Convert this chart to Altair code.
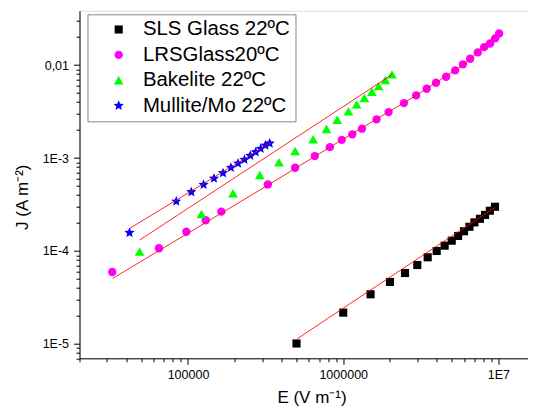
import altair as alt
import pandas as pd

# ---------------- data ----------------
series_names = ["SLS Glass 22ºC", "LRSGlass20ºC", "Bakelite 22ºC", "Mullite/Mo 22ºC"]
series_colors = ["#000000", "#FF00FF", "#00FF00", "#0000FF"]
STAR = ("M0,-1L0.265,-0.364L0.951,-0.309L0.428,0.139L0.588,0.809L0,0.45"
        "L-0.588,0.809L-0.428,0.139L-0.951,-0.309L-0.265,-0.364Z")
series_shapes = ["square", "circle", "triangle-up", STAR]
series_sizes = [66, 70, 95, 115]

sls_E = [5e5, 1e6, 1.5e6, 2e6, 2.5e6, 3e6, 3.5e6, 4e6, 4.5e6, 5e6, 5.5e6, 6e6,
         6.5e6, 7e6, 7.6e6, 8.2e6, 8.8e6, 9.5e6]
sls_J = [1.01e-5, 2.17e-5, 3.42e-5, 4.64e-5, 5.79e-5, 7.06e-5, 8.55e-5, 1.0e-4,
         1.14e-4, 1.29e-4, 1.45e-4, 1.63e-4, 1.82e-4, 2.03e-4, 2.22e-4, 2.44e-4,
         2.71e-4, 2.99e-4]

lrs_E = [3.25e4, 6.5e4, 9.75e4, 1.3e5, 1.64e5, 3.27e5, 4.9e5, 6.56e5, 8.2e5,
         9.78e5, 1.145e6, 1.32e6, 1.64e6, 1.96e6, 2.46e6, 2.95e6, 3.45e6, 3.96e6,
         4.6e6, 5.26e6, 5.9e6, 6.57e6, 7.36e6, 8.09e6, 8.84e6, 9.52e6, 1.01e7]
lrs_J = [5.94e-5, 1.07e-4, 1.61e-4, 2.14e-4, 2.65e-4, 5.2e-4, 7.87e-4, 1.05e-3,
         1.31e-3, 1.57e-3, 1.8e-3, 2.07e-3, 2.61e-3, 3.12e-3, 3.9e-3, 4.72e-3,
         5.56e-3, 6.45e-3, 7.49e-3, 8.77e-3, 0.0102, 0.0117, 0.0137, 0.0156,
         0.0171, 0.0194, 0.0219]

bak_E = [4.88e4, 1.22e5, 1.95e5, 2.9e5, 3.86e5, 4.9e5, 6.4e5, 7.8e5, 9.15e5,
         1.08e6, 1.22e6, 1.37e6, 1.53e6, 1.69e6, 1.87e6, 2.06e6]
bak_J = [9.84e-5, 2.5e-4, 4.17e-4, 6.56e-4, 8.99e-4, 1.19e-3, 1.59e-3, 2.05e-3,
         2.58e-3, 3.18e-3, 3.78e-3, 4.42e-3, 5.16e-3, 5.94e-3, 6.9e-3, 7.95e-3]

mul_E = [4.2e4, 8.4e4, 1.05e5, 1.26e5, 1.47e5, 1.68e5, 1.89e5, 2.1e5, 2.31e5,
         2.52e5, 2.73e5, 2.94e5, 3.15e5, 3.36e5]
mul_J = [1.57e-4, 3.42e-4, 4.31e-4, 5.17e-4, 6.04e-4, 6.9e-4, 7.87e-4, 8.77e-4,
         9.6e-4, 1.06e-3, 1.16e-3, 1.26e-3, 1.37e-3, 1.44e-3]

# fit curves (red), nodes
sls_fit_E = [5.07e5, 9.52e6]
sls_fit_J = [1.14e-5, 2.95e-4]
lrs_fit_E = [3.28e4, 3.27e5, 1e6, 3e6, 5.9e6, 1.01e7]
lrs_fit_J = [5.08e-5, 5.1e-4, 1.6e-3, 4.8e-3, 1.0e-2, 2.21e-2]
bak_fit_E = [4.88e4, 2.06e6]
bak_fit_J = [1.31e-4, 7.9e-3]
mul_fit_E = [4.21e4, 3.51e5]
mul_fit_J = [1.75e-4, 1.5e-3]

x_major = [1e5, 1e6, 1e7]
x_major_labels = ["100000", "1000000", "1E7"]
y_major = [1e-5, 1e-4, 1e-3, 1e-2]
y_major_labels = ["1E-5", "1E-4", "1E-3", "0,01"]

# ---------------- tables ----------------
rows = []
for name, Es, Js in zip(series_names, [sls_E, lrs_E, bak_E, mul_E],
                        [sls_J, lrs_J, bak_J, mul_J]):
    for e, j in zip(Es, Js):
        rows.append({"series": name, "E": e, "J": j})
points = pd.DataFrame(rows)

lrows = []
for name, Es, Js in zip(series_names, [sls_fit_E, lrs_fit_E, bak_fit_E, mul_fit_E],
                        [sls_fit_J, lrs_fit_J, bak_fit_J, mul_fit_J]):
    for e, j in zip(Es, Js):
        lrows.append({"series": name, "E": e, "J": j})
lines = pd.DataFrame(lrows)

x_ticks = [m * 10 ** k for k in range(4, 8) for m in range(1, 10)
           if 2e4 <= m * 10 ** k <= 1.55e7]
y_ticks = [m * 10.0 ** k for k in range(-6, -1) for m in range(1, 10)
           if 7e-6 <= m * 10.0 ** k <= 0.0385]


def label_expr(vals, labels):
    expr = "''"
    for v, l in zip(reversed(vals), reversed(labels)):
        expr = f"(abs(datum.value - {v!r}) < {v * 1e-6!r} ? '{l}' : {expr})"
    return expr


def major_test(vals):
    return " || ".join(f"abs(datum.value - {v!r}) < {v * 1e-6!r}" for v in vals)


FONT = "Liberation Sans"

x_axis = alt.Axis(
    values=x_ticks, labelExpr=label_expr(x_major, x_major_labels),
    tickSize={"condition": {"test": major_test(x_major), "value": 6}, "value": 3.5},
    labelPadding=4, labelFont=FONT, labelFontSize=12.5, labelColor="black",
    labelOverlap=False, labelFlush=False, grid=False,
    domainColor="black", tickColor="black",
    title="E (V m⁻¹)", titleFont=FONT, titleFontSize=17, titleFontWeight="normal",
    titleColor="black", titleX=232, titleY=39.5, titleBaseline="middle", titleAnchor="middle",
)
y_axis = alt.Axis(
    values=y_ticks, labelExpr=label_expr(y_major, y_major_labels),
    tickSize={"condition": {"test": major_test(y_major), "value": 6}, "value": 3.5},
    labelPadding=5, labelFont=FONT, labelFontSize=12.5, labelColor="black",
    labelOverlap=False, labelFlush=False, grid=False,
    domainColor="black", tickColor="black",
    title="J (A m⁻²)", titleFont=FONT, titleFontSize=17, titleFontWeight="normal",
    titleColor="black", titleX=-57, titleY=186, titleAngle=270,
    titleBaseline="middle", titleAlign="center",
)

x_scale = alt.Scale(type="log", domain=[2e4, 1.55e7])
y_scale = alt.Scale(type="log", domain=[7e-6, 0.0385])

legend = alt.Legend(
    orient="none", legendX=8, legendY=3.6, strokeColor="#888888", fillColor="white",
    padding=5, rowPadding=4.4, labelFont=FONT, labelFontSize=20.4, labelColor="black",
    symbolSize=45, symbolOffset=16, labelOffset=14,
    labelExpr="datum.label + '\u00a0\u00a0'",
)

pts = alt.Chart(points).mark_point(filled=True, opacity=1).encode(
    x=alt.X("E:Q", scale=x_scale, axis=x_axis),
    y=alt.Y("J:Q", scale=y_scale, axis=y_axis),
    color=alt.Color("series:N", title=None,
                    scale=alt.Scale(domain=series_names, range=series_colors),
                    legend=legend),
    shape=alt.Shape("series:N", title=None,
                    scale=alt.Scale(domain=series_names, range=series_shapes),
                    legend=legend),
    size=alt.Size("series:N",
                  scale=alt.Scale(type="ordinal", domain=series_names, range=series_sizes),
                  legend=None),
)

fit = alt.Chart(lines).mark_line(color="#FF0000", strokeWidth=1, opacity=0.85).encode(
    x=alt.X("E:Q", scale=x_scale),
    y=alt.Y("J:Q", scale=y_scale),
    detail="series:N",
)

chart = alt.layer(pts, fit).properties(
    width=448.5, height=347.6,
    autosize=alt.AutoSizeParams(type="none"),
    padding={"left": 71.5, "top": 2.7, "right": 0, "bottom": 49},
    background="white",
).configure_view(stroke=None).configure(font=FONT)

chart.save("out.html", embed_options={"renderer": "svg", "actions": False})
